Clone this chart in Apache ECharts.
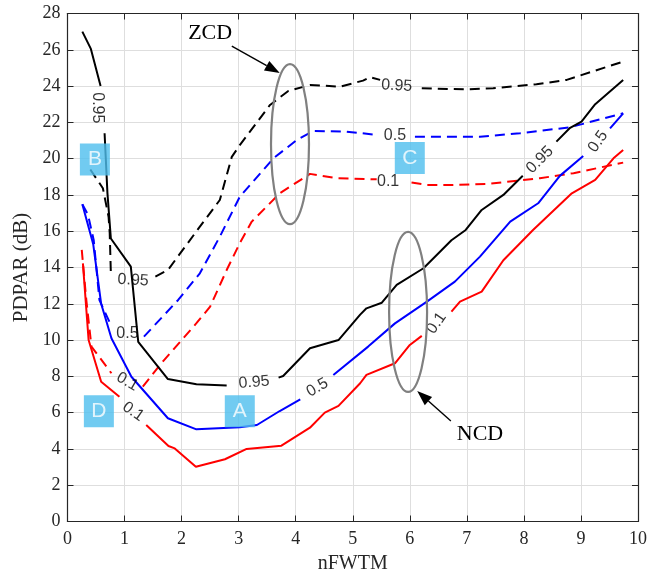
<!DOCTYPE html>
<html><head><meta charset="utf-8">
<script src="https://cdn.jsdelivr.net/npm/echarts@6/dist/echarts.min.js"></script>
<style>html,body{margin:0;padding:0;background:#fff}#c{width:664px;height:574px}</style>
</head><body><div id="c"></div>
<script>
// ---- data (x: nFWTM, y: PDPAR dB); null = break for contour label ----
const xTickValues = [0,1,2,3,4,5,6,7,8,9,10];
const yTickValues = [0,2,4,6,8,10,12,14,16,18,20,22,24,26,28];

const ncd95 = [[0.26,27.0],[0.41,26.05],[0.58,24.0],null,[0.65,21.4],[0.70,18.1],[0.76,15.6],[1.11,14.05],[1.24,9.9],[1.76,7.85],[2.26,7.56],[2.79,7.5],null,[3.7,7.93],[3.78,8.02],[4.25,9.55],[4.75,10.0],[5.13,11.4],[5.24,11.75],[5.51,12.06],[5.77,13.04],[6.24,13.96],[6.73,15.5],[6.98,16.07],[7.26,17.17],[7.64,18.0],[7.98,19.06],null,[8.57,20.94],[8.81,21.7],[9.01,22.04],[9.25,23.0],[9.74,24.34]];
const ncd50 = [[0.26,17.49],[0.45,15.3],[0.59,12.0],[0.77,10.1],[1.12,7.98],[1.76,5.69],[2.26,5.08],[3.02,5.19],[3.32,5.32],[3.72,6.09],[4.08,6.73],null,[4.66,8.08],[5.27,9.64],[5.74,10.92],[6.3,12.12],[6.79,13.22],[7.23,14.6],[7.76,16.53],[8.25,17.54],[8.63,19.05],[9.04,20.15],null,[9.51,21.67],[9.74,22.5]];
const ncd10 = [[0.27,14.23],[0.37,10.0],[0.59,7.7],[0.91,6.88],null,[1.38,5.32],[1.77,4.16],[1.88,4.03],[2.25,3.02],[2.76,3.43],[3.14,4.0],[3.75,4.18],[4.25,5.17],[4.51,6.0],[4.75,6.37],[5.13,7.62],[5.24,8.08],[5.74,8.72],[6.0,9.73],[6.21,10.23],null,[6.73,11.57],[6.88,12.12],[7.26,12.67],[7.64,14.4],[8.16,16.07],[8.84,18.09],[9.25,18.83],[9.57,20.02],[9.74,20.48]];
const zcd95 = [[0.40,19.4],[0.62,18.37],[0.72,16.8],[0.74,15.89],[0.76,13.68],null,[1.54,13.5],[1.76,13.86],[2.32,16.25],[2.67,17.72],[2.88,20.1],[3.02,20.75],[3.55,22.96],[3.87,23.73],[4.25,24.06],[4.78,23.97],[5.18,24.3],[5.30,24.49],[5.48,24.34],null,[6.21,23.88],[7.0,23.82],[7.46,23.88],[8.22,24.1],[8.75,24.34],[9.74,25.35]];
const zcd50 = [[0.26,17.49],[0.36,16.9],[0.46,15.5],[0.56,12.2],[0.76,10.83],null,[1.34,10.19],[1.94,12.21],[2.32,13.68],[2.67,15.7],[3.02,17.9],[3.61,20.02],[4.02,21.03],[4.31,21.53],[4.89,21.49],[5.42,21.31],null,[6.09,21.21],[7.23,21.21],[7.93,21.4],[8.81,21.73],[9.74,22.5]];
const zcd10 = [[0.25,14.97],[0.33,12.2],[0.42,9.64],[0.77,8.17],null,[1.32,7.43],[1.62,8.63],[2.26,10.93],[2.5,11.84],[2.79,13.86],[3.02,15.34],[3.23,16.53],[3.72,18.09],[4.25,19.16],[4.72,18.92],[5.42,18.86],null,[6.03,18.68],[6.3,18.55],[6.76,18.55],[7.35,18.6],[8.28,18.92],[8.87,19.2],[9.74,19.78]];

// contour labels: [x, y, text, rotation]
const contourLabels = [
  [0.52,22.8,'0.95',-90],[1.15,13.3,'0.95',-3],[1.05,10.37,'0.5',0],[1.05,7.7,'0.1',-30],[1.15,6.05,'0.1',-35],
  [3.27,7.67,'0.95',5],[4.38,7.38,'0.5',30],[6.47,10.93,'0.1',55],[8.28,19.93,'0.95',45],[9.3,20.94,'0.5',55],
  [5.77,24.02,'0.95',-3],[5.74,21.25,'0.5',0],[5.62,18.73,'0.1',0]
];
// region boxes: [x, y, letter]
const boxes = [[3.02,6.08,'A'],[0.48,19.95,'B'],[6.0,20.04,'C'],[0.55,6.07,'D']];
// annotations (data coords)
const zcdText = [2.5,26.93], zcdArrow = [[2.88,26.2],[3.72,24.72]], zcdEllipse = [3.9,20.8];
const ncdText = [7.23,4.82], ncdArrow = [[6.72,5.54],[6.13,7.19]], ncdEllipse = [5.97,11.55];

const toSeriesData = a => a.map(p => p === null ? '-' : p);

const chart = echarts.init(document.getElementById('c'), null, {renderer:'canvas'});
const serif = '"Liberation Serif","Times New Roman",serif';
const sans = '"Liberation Sans",Arial,Helvetica,sans-serif';
const grid = {left:67.5, right:26, top:13.5, bottom:52.5, containLabel:false, outerBoundsMode:'none'};

function lineSeries(data, color, dashed){
  return {type:'line', data:toSeriesData(data), showSymbol:false, symbol:'none', connectNulls:false,
    lineStyle:{color, width:2, type: dashed ? [10,6] : 'solid'}, animation:false, silent:true, z:3};
}

chart.setOption({
  animation:false,
  grid,
  xAxis:[{type:'value', min:0, max:10, interval:1, position:'bottom',
      axisLine:{show:true,onZero:false,lineStyle:{color:'#262626',width:1.2}},
      axisTick:{show:true,inside:true,length:6,lineStyle:{color:'#262626'}},
      axisLabel:{fontFamily:serif,fontSize:18,color:'#262626',margin:9},
      splitLine:{show:true,lineStyle:{color:'#dedede',width:1}},
      name:'nFWTM', nameLocation:'middle', nameGap:30, nameTextStyle:{fontFamily:serif,fontSize:20,color:'#262626'}},
    {type:'value', min:0, max:10, interval:1, position:'top',
      axisLine:{show:true,onZero:false,lineStyle:{color:'#262626',width:1.2}},
      axisTick:{show:true,inside:true,length:6,lineStyle:{color:'#262626'}},
      axisLabel:{show:false}, splitLine:{show:false}}],
  yAxis:[{type:'value', min:0, max:28, interval:2, position:'left',
      axisLine:{show:true,onZero:false,lineStyle:{color:'#262626',width:1.2}},
      axisTick:{show:true,inside:true,length:6,lineStyle:{color:'#262626'}},
      axisLabel:{fontFamily:serif,fontSize:18,color:'#262626',margin:7},
      splitLine:{show:true,lineStyle:{color:'#dedede',width:1}},
      name:'PDPAR (dB)', nameLocation:'middle', nameGap:35, nameTextStyle:{fontFamily:serif,fontSize:21,color:'#262626'}},
    {type:'value', min:0, max:28, interval:2, position:'right',
      axisLine:{show:true,onZero:false,lineStyle:{color:'#262626',width:1.2}},
      axisTick:{show:true,inside:true,length:6,lineStyle:{color:'#262626'}},
      axisLabel:{show:false}, splitLine:{show:false}}],
  series:[
    lineSeries(zcd95,'#000000',true),
    lineSeries(zcd50,'#0000ff',true),
    lineSeries(zcd10,'#ff0000',true),
    lineSeries(ncd95,'#000000',false),
    lineSeries(ncd50,'#0000ff',false),
    lineSeries(ncd10,'#ff0000',false),
    {type:'scatter', symbolSize:0, silent:true, z:4, animation:false,
      data: contourLabels.map(l => ({value:[l[0],l[1]], name:l[2],
        label:{show:true, position:'inside', formatter:l[2], rotate:l[3],
          fontFamily:sans, fontSize:16, color:'#000000'}}))},
    {type:'scatter', symbol:'rect', symbolSize:[30,32], silent:true, z:6, animation:false,
      itemStyle:{color:'#4dbeee'},
      data: boxes.map(b => ({value:[b[0],b[1]], name:b[2]})),
      label:{show:true, position:'inside', formatter:p => p.name, fontFamily:sans, fontSize:21, color:'#ffffff'}}
  ]
});

function px(p){ return chart.convertToPixel({xAxisIndex:0,yAxisIndex:0}, p); }
function arrow(from, to){
  const a = px(from), b = px(to);
  const dx=b[0]-a[0], dy=b[1]-a[1], L=Math.hypot(dx,dy), ux=dx/L, uy=dy/L;
  const hl=15, hw=5.5;
  const base=[b[0]-ux*hl, b[1]-uy*hl];
  return [
    {type:'line', shape:{x1:a[0],y1:a[1],x2:base[0],y2:base[1]}, style:{stroke:'#000',lineWidth:1.4}, z:10},
    {type:'polygon', shape:{points:[[b[0],b[1]],[base[0]-uy*hw,base[1]+ux*hw],[base[0]+uy*hw,base[1]-ux*hw]]}, style:{fill:'#000'}, z:10}
  ];
}
const ze = px(zcdEllipse), ne = px(ncdEllipse), zt = px(zcdText), nt = px(ncdText);
chart.setOption({graphic:[
  {type:'ellipse', shape:{cx:ze[0],cy:ze[1],rx:19,ry:80}, style:{fill:null,stroke:'#808080',lineWidth:2.2}, z:10},
  {type:'ellipse', shape:{cx:ne[0],cy:ne[1],rx:19,ry:80}, style:{fill:null,stroke:'#808080',lineWidth:2.2}, z:10},
  {type:'text', x:zt[0], y:zt[1], style:{text:'ZCD', font:'22px '+serif, fill:'#000', textAlign:'center', textVerticalAlign:'middle'}, z:10},
  {type:'text', x:nt[0], y:nt[1], style:{text:'NCD', font:'22px '+serif, fill:'#000', textAlign:'center', textVerticalAlign:'middle'}, z:10},
  ...arrow(zcdArrow[0], zcdArrow[1]),
  ...arrow(ncdArrow[0], ncdArrow[1])
]});
</script>
</body></html>
